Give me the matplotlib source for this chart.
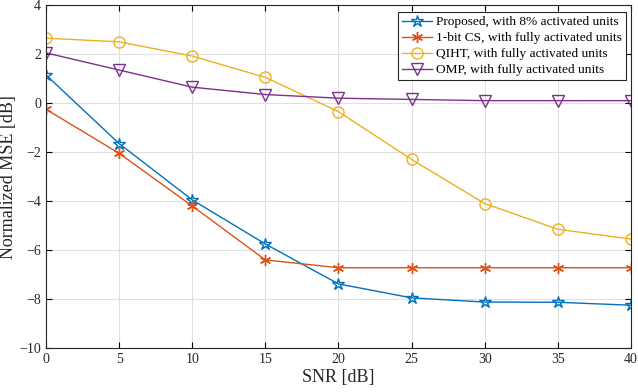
import matplotlib.pyplot as plt

plt.rcParams['font.family'] = ['Liberation Serif', 'DejaVu Serif']

snr = [0, 5, 10, 15, 20, 25, 30, 35, 40]
proposed = [1.15, -1.65, -3.95, -5.75, -7.38, -7.95, -8.12, -8.13, -8.25]
onebit_cs = [-0.25, -2.05, -4.2, -6.4, -6.72, -6.72, -6.72, -6.72, -6.72]
qiht = [2.65, 2.5, 1.92, 1.05, -0.35, -2.3, -4.1, -5.15, -5.55]
omp = [2.05, 1.35, 0.65, 0.35, 0.2, 0.15, 0.1, 0.1, 0.1]

labels = ["Proposed, with 8% activated units",
          "1-bit CS, with fully activated units",
          "QIHT, with fully activated units",
          "OMP, with fully activated units"]

fig = plt.figure(figsize=(6.38, 3.92), dpi=100)
ax = fig.add_axes([0.072, 0.112, 0.917, 0.875])

ax.plot(snr, proposed, color='#0072BD', marker='*', ms=9, mfc='none', lw=1, label=labels[0])
ax.plot(snr, onebit_cs, color='#D95319', marker=(6, 2, 0), ms=8, lw=1, label=labels[1])
ax.plot(snr, qiht, color='#EDB120', marker='o', ms=8, mfc='none', lw=1, label=labels[2])
ax.plot(snr, omp, color='#7E2F8E', marker='v', ms=8, mfc='none', lw=1, label=labels[3])

ax.set_xlim(0, 40)
ax.set_ylim(-10, 4)
ax.set_xticks(range(0, 41, 5))
ax.set_yticks(range(-10, 5, 2))
ax.grid(True, color='#e0e0e0', lw=0.8)
ax.set_axisbelow(True)
ax.tick_params(direction='in', labelsize=10, labelcolor='#262626', top=True, right=True, length=4)
for s in ax.spines.values():
    s.set_linewidth(0.8)
    s.set_color('#262626')
ax.set_xlabel("SNR [dB]", fontsize=13, labelpad=2, color='#262626')
ax.set_ylabel("Normalized MSE [dB]", fontsize=13, labelpad=2, color='#262626')

leg = ax.legend(loc='upper right', bbox_to_anchor=(0.992, 0.98), fontsize=9.6, fancybox=False,
                edgecolor='#262626', framealpha=1, borderaxespad=0, handlelength=2.3,
                labelspacing=0.28, borderpad=0.3, handletextpad=0.3)
leg.get_frame().set_linewidth(0.8)

fig.savefig("out.png")
